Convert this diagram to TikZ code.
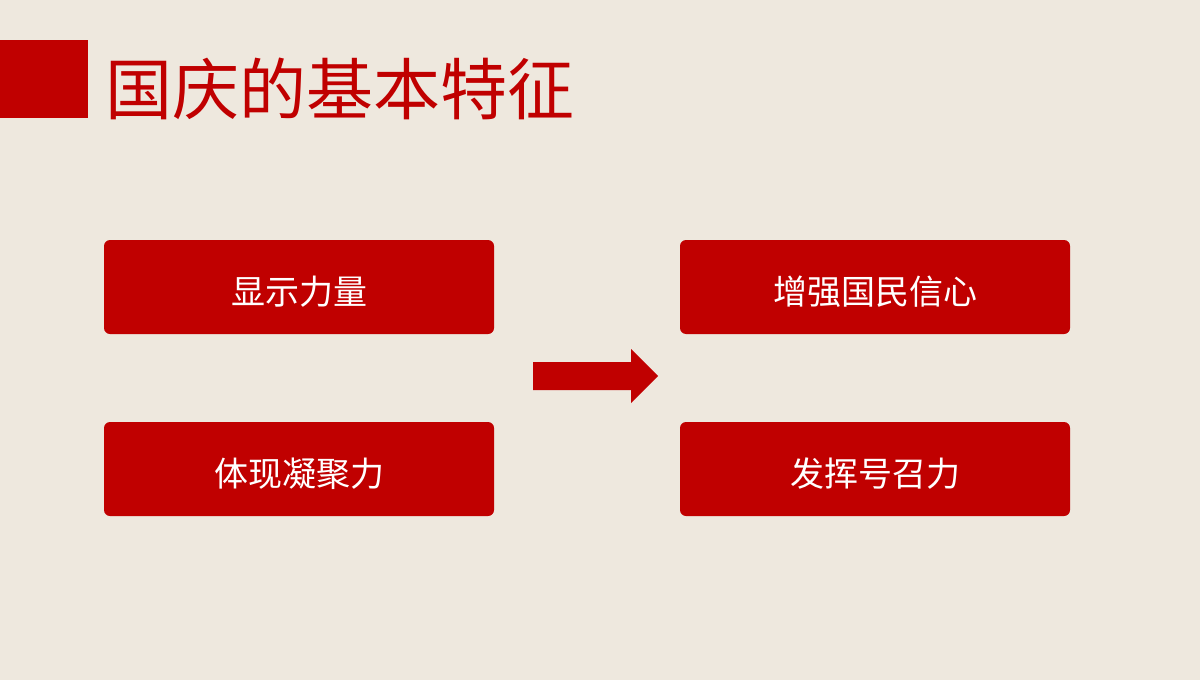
\documentclass[tikz,border=0pt]{standalone}
\usepackage{fontspec}
\newfontfamily\cjk{Noto Sans CJK SC}
\definecolor{paper}{HTML}{EEE8DE}
\definecolor{festred}{HTML}{C00000}
\tikzset{
    featbox/.style={rectangle, rounded corners=6pt, fill=festred, text=white,
        minimum width=390pt, minimum height=94pt, inner sep=0pt,
        text height=34pt, text depth=0pt,
        font=\cjk\fontsize{34}{38}\selectfont},
}
\begin{document}
\begin{tikzpicture}[x=1pt,y=-1pt]
                \fill[paper] (0,0) rectangle (1200,680);
                \useasboundingbox (0,0) rectangle (1200,680);

                %Title
                \fill[festred] (0,40) rectangle (88,118);
                \node[anchor=west, inner sep=0pt, text=festred, font=\cjk\fontsize{67}{74}\selectfont] at (105,89) (title) {国庆的基本特征};

                %Nodes
                \node[featbox] at (299,287) (power) {显示力量};
                \node[featbox] at (299,469) (unity) {体现凝聚力};
                \node[featbox] at (875,287) (faith) {增强国民信心};
                \node[featbox] at (875,469) (appeal) {发挥号召力};

                %Arrow
                \coordinate (tail) at (533,376);
                \coordinate (tip) at (658,376);
                \fill[festred] (tail) ++(0,-14) -- ++(98,0) -- ++(0,-13) -- (tip)
                    -- ++(-27,27) -- ++(0,-13) -- ++(-98,0) -- cycle;
            \end{tikzpicture}
\end{document}
